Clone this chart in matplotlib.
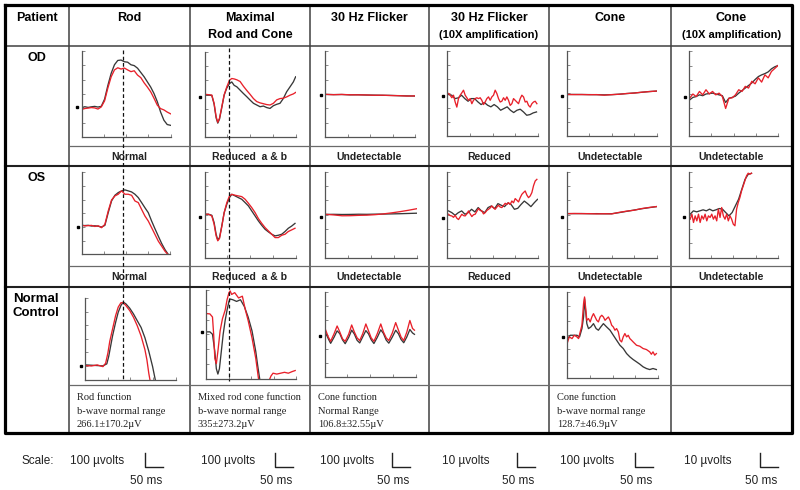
import numpy as np
import matplotlib.pyplot as plt
from matplotlib import font_manager

# ---- column / row text ----
headers = ["Patient", "Rod", "Maximal\nRod and Cone", "30 Hz Flicker",
           "30 Hz Flicker\n(10X amplification)", "Cone", "Cone\n(10X amplification)"]
patients = ["OD", "OS", "Normal\nControl"]
od_calls = ["Normal", "Reduced  a & b", "Undetectable", "Reduced", "Undetectable", "Undetectable"]
os_calls = ["Normal", "Reduced  a & b", "Undetectable", "Reduced", "Undetectable", "Undetectable"]
normal_notes = [
    ["Rod function", "b-wave normal range", "266.1±170.2µV"],
    ["Mixed rod cone function", "b-wave normal range", "335±273.2µV"],
    ["Cone function", "Normal Range", "106.8±32.55µV"],
    None,
    ["Cone function", "b-wave normal range", "128.7±46.9µV"],
    None,
]
scale_volts = ["100 µvolts", "100 µvolts", "100 µvolts", "10 µvolts", "100 µvolts", "10 µvolts"]
scale_time = "50 ms"

# ---- traces: time in % of sweep, amplitude in % of panel height ----
# OD
od_rod_k = [34.0, 35.2, 34.4, 35.1, 35.6, 34.8, 35.7, 44.0, 60.0, 74.0, 84.0, 89.0, 89.5, 87.5,
            87.0, 84.0, 83.0, 80.0, 75.0, 70.0, 64.0, 58.0, 50.5, 41.0, 29.0, 19.5, 14.5, 13.6]
od_rod_r = [32.0, 33.1, 33.6, 34.2, 33.8, 32.5, 35.0, 42.0, 57.0, 70.0, 78.0, 80.5, 79.0, 80.2,
            78.0, 76.0, 77.0, 72.0, 69.0, 63.0, 58.0, 52.5, 45.0, 37.0, 33.0, 31.5, 29.0, 27.0]
od_max_t = [1.8, 8.0, 10.5, 12.7, 14.5, 16.4, 18.9, 21.5, 24.4, 27.3, 29.8, 32.4, 35.3, 38.9, 42.5,
            46.2, 49.8, 53.5, 57.1, 60.7, 64.4, 68.0, 71.6, 75.3, 78.9, 82.5, 86.2, 89.8, 93.5, 97.1, 99.6]
od_max_k = [49.8, 49.2, 39.0, 23.0, 16.8, 21.5, 35.0, 49.6, 58.0, 63.0, 65.0, 61.0, 59.3, 55.4, 51.5,
            47.7, 43.8, 40.0, 38.0, 36.0, 36.8, 35.0, 34.0, 37.2, 38.8, 40.0, 45.7, 53.5, 59.3, 65.0, 71.0]
od_max_r = [50.4, 49.6, 40.0, 24.4, 17.8, 22.5, 36.0, 50.0, 59.3, 67.0, 69.0, 68.5, 67.5, 65.5, 60.0,
            55.0, 50.5, 45.5, 42.0, 40.5, 39.5, 38.5, 38.0, 40.0, 44.0, 45.5, 46.0, 47.5, 49.5, 51.0, 52.7]
od_fl_k = [49.5, 49.3, 49.4, 49.0, 49.1, 48.8, 48.7, 48.5, 48.4, 48.0, 47.8, 47.6]
od_fl_r = [49.6, 49.2, 49.5, 49.1, 49.0, 48.9, 48.5, 48.6, 48.2, 48.1, 47.6, 47.8]
od_fl10_k = [48.8, 48.0, 44.0, 44.9, 48.0, 44.0, 40.9, 44.0, 44.0, 40.2, 37.0, 39.4, 36.2, 34.3,
             37.0, 34.3, 30.3, 32.3, 34.3, 30.3, 27.6, 30.3, 31.5, 28.3, 24.4, 25.2, 27.2, 28.3]
od_fl10_r = [50.0, 48.0, 45.0, 48.0, 40.0, 34.0, 44.0, 48.0, 50.8, 53.9, 48.0, 45.0, 42.0, 44.0,
             38.0, 42.0, 44.0, 45.0, 44.0, 45.0, 42.0, 37.0, 40.0, 44.0, 46.0, 42.0, 46.0, 48.0,
             53.9, 50.0, 44.0, 40.0, 40.9, 45.0, 42.0, 46.0, 42.0, 36.0, 38.0, 44.0, 42.0, 40.0,
             38.0, 44.0, 48.0, 46.0, 40.0, 40.9, 36.0, 34.0, 38.0, 40.0, 40.9, 38.0]
od_cone_k = [48.8, 48.9, 48.8, 48.7, 48.6, 48.4, 48.6, 49.2, 49.9, 50.6, 51.4, 52.3, 52.8]
od_cone_r = [48.9, 48.7, 48.8, 48.6, 48.7, 48.0, 48.7, 49.1, 50.0, 50.5, 51.5, 52.2, 52.9]
od_cone10_k = [43.0, 46.0, 47.0, 49.0, 48.0, 50.0, 50.5, 51.0, 50.0, 49.0, 48.0, 40.0, 45.0, 46.0,
               47.5, 51.0, 54.0, 57.0, 60.0, 63.0, 67.0, 70.5, 72.5, 74.0, 76.0, 79.6, 82.0, 83.5]
od_cone10_r = [45.0, 50.0, 47.0, 53.0, 49.0, 55.0, 50.0, 53.0, 49.0, 51.0, 47.0, 33.0, 45.0, 45.5,
               49.0, 55.0, 53.0, 59.0, 57.0, 65.0, 62.0, 69.0, 64.0, 72.5, 69.0, 76.5, 80.0, 83.5]
# OS
os_rod_k = [35.5, 35.3, 35.6, 34.7, 35.0, 34.5, 33.5, 35.5, 51.0, 65.3, 72.2, 75.5, 77.6, 78.8,
            77.6, 76.3, 73.5, 69.4, 63.3, 57.0, 51.0, 40.8, 31.4, 22.4, 13.5, 6.0, 0.0]
os_rod_r = [35.8, 34.9, 35.2, 35.5, 34.2, 35.0, 32.7, 36.7, 53.0, 66.5, 71.4, 73.5, 77.6, 73.5,
            73.5, 72.2, 65.3, 63.3, 55.0, 46.9, 40.8, 32.7, 24.5, 16.3, 10.2, 4.0, -0.5]
os_max_t = [0.7, 4.4, 8.0, 10.5, 12.7, 14.5, 16.4, 18.9, 21.5, 24.4, 27.3, 29.8, 33.5, 37.1, 40.7,
            44.4, 48.0, 51.6, 55.3, 58.9, 62.5, 66.2, 69.8, 73.5, 77.1, 80.7, 84.4, 88.0, 91.6, 95.3, 98.9]
os_max_k = [50.6, 50.6, 49.4, 40.9, 27.2, 20.6, 23.3, 37.0, 52.5, 62.3, 70.0, 73.9, 72.0, 70.0, 68.1,
            64.2, 60.3, 54.5, 48.6, 42.8, 37.7, 33.0, 30.0, 27.2, 25.3, 26.0, 27.2, 30.4, 34.2, 36.8, 39.9]
os_max_r = [50.6, 50.6, 48.6, 38.9, 25.3, 19.5, 22.2, 36.2, 52.5, 64.2, 72.0, 73.9, 72.8, 72.0, 71.2,
            68.1, 63.4, 58.4, 52.5, 45.5, 40.0, 35.0, 31.1, 27.2, 23.3, 23.3, 26.0, 27.2, 30.4, 32.3, 34.2]
os_fl_k = [50.4, 50.5, 50.3, 50.4, 50.6, 50.5, 50.7, 50.8, 51.0, 51.2, 51.5, 51.8]
os_fl_r = [50.5, 49.8, 48.8, 48.9, 49.3, 49.5, 50.1, 51.0, 52.2, 53.6, 55.2, 57.0]
os_fl10_k = [54.5, 52.5, 49.4, 52.5, 54.5, 50.6, 52.5, 56.4, 53.3, 58.4, 54.5, 52.5, 58.4, 60.3,
             57.2, 63.0, 61.1, 59.5, 63.8, 61.9, 56.4, 57.5, 62.0, 66.0, 63.0, 59.5, 64.0, 68.0]
os_fl10_r = [50.6, 49.0, 48.6, 47.0, 49.4, 46.0, 44.4, 47.5, 50.6, 49.0, 48.6, 51.0, 54.5, 51.0,
             47.9, 50.0, 50.6, 54.0, 57.2, 55.0, 54.5, 51.0, 52.5, 55.0, 56.4, 58.0, 60.3, 58.0,
             56.4, 59.0, 61.1, 59.0, 58.4, 61.0, 63.4, 62.0, 64.2, 62.0, 66.1, 64.0, 68.9, 67.0,
             65.0, 70.0, 73.9, 76.0, 77.8, 73.0, 70.0, 72.0, 75.9, 84.0, 89.5, 91.4]
os_cone_k = [51.4, 51.3, 51.4, 51.2, 51.3, 51.1, 51.2, 52.5, 54.0, 55.5, 57.0, 58.3, 59.5]
os_cone_r = [51.2, 51.5, 51.3, 51.3, 51.0, 51.2, 51.0, 52.8, 54.2, 55.3, 57.2, 58.5, 59.6]
os_cone10_k = [51.0, 54.9, 53.7, 54.9, 56.1, 54.9, 56.9, 54.9, 56.1, 57.6, 56.9, 52.9, 49.0, 52.9,
               60.8, 68.6, 80.4, 92.0, 98.0, 99.0]
os_cone10_r = [45.1, 51.0, 41.2, 49.0, 43.1, 51.0, 41.2, 49.0, 45.1, 51.0, 43.1, 49.0, 47.1, 51.0,
               45.1, 49.0, 43.1, 56.9, 47.1, 58.8, 49.0, 45.1, 51.0, 43.1, 49.0, 45.1, 39.2, 37.3,
               56.9, 64.7, 70.6, 78.4, 84.3, 90.2, 96.1, 99.2, 98.0, 99.2]
# Normal control
nc_rod_tk = [0.8, 7.2, 13.5, 19.8, 24.1, 26.2, 28.3, 30.4, 33.8, 36.7, 39.7, 42.2, 45.1, 49.4,
             53.6, 57.8, 62.0, 66.2, 70.5, 74.7, 77.6]
nc_rod_k = [17.9, 17.5, 17.1, 16.7, 19.2, 28.3, 40.8, 53.3, 70.0, 82.5, 90.8, 95.0, 92.9, 87.5,
            80.4, 72.0, 63.8, 51.3, 34.6, 15.8, 0.0]
nc_rod_tr = [0.8, 7.2, 13.5, 19.8, 22.8, 25.3, 27.4, 30.4, 33.8, 36.7, 39.7, 42.2, 45.1, 49.4,
             53.6, 57.8, 62.0, 66.2, 68.4, 70.5, 71.7]
nc_rod_r = [17.0, 16.6, 17.9, 15.8, 20.0, 32.5, 47.0, 61.7, 78.3, 88.8, 94.2, 94.2, 90.8, 84.6,
            76.3, 65.8, 53.3, 36.7, 24.2, 7.5, 0.0]
nc_max_tk = [0.0, 4.3, 7.2, 9.8, 11.5, 13.2, 14.9, 17.0, 19.1, 21.3, 23.4, 25.5, 26.8, 29.8, 34.0,
             38.3, 42.6, 46.8, 51.1, 55.3, 57.4, 59.6]
nc_max_k = [52.7, 52.7, 50.0, 30.5, 11.0, 5.0, 11.0, 30.5, 50.0, 65.6, 77.3, 87.1, 89.8, 89.0, 87.1,
            89.0, 81.3, 69.5, 53.9, 30.5, 14.8, 0.0]
nc_max_tr = [0.0, 4.3, 7.2, 8.5, 9.8, 11.5, 13.2, 15.7, 18.3, 21.3, 23.4, 25.5, 26.8, 28.5, 31.9,
             36.2, 40.4, 43.8, 46.8, 51.1, 55.3, 58.3, 61.7, 66.0, 70.2, 72.3, 74.5, 78.7, 83.0,
             87.2, 91.5, 95.7, 99.1]
nc_max_r = [73.4, 73.0, 69.5, 50.0, 22.7, 16.8, 30.5, 53.9, 67.6, 77.3, 89.0, 96.9, 99.0, 95.0, 97.0,
            91.0, 93.0, 77.3, 65.6, 46.0, 22.7, 0.0, -8.0, -6.0, -2.0, 3.0, 6.0, 5.0, 6.0,
            7.0, 6.0, 7.8, 9.0]
nc_fl_t = [1.3, 4.2, 6.7, 10.5, 13.8, 16.7, 19.7, 22.6, 26.4, 29.7, 32.6, 35.6, 38.5, 41.8, 45.2,
           48.1, 51.0, 54.0, 57.7, 61.5, 64.4, 67.4, 70.3, 74.1, 77.8, 80.8, 83.7, 86.6, 90.0,
           93.3, 96.2, 98.3]
nc_fl_k = [51.8, 44.9, 39.6, 46.9, 54.3, 51.0, 43.7, 39.2, 46.5, 55.1, 50.6, 43.2, 40.1, 47.3, 54.6,
           50.8, 43.9, 39.4, 46.7, 55.5, 51.2, 43.5, 39.8, 47.0, 55.0, 50.9, 44.1, 40.3, 47.2,
           55.9, 51.8, 50.2]
nc_fl_r = [55.1, 46.9, 42.0, 51.0, 60.0, 53.0, 44.9, 42.0, 50.2, 61.2, 53.0, 46.1, 42.9, 51.0, 62.4,
           54.3, 46.1, 42.0, 51.0, 62.4, 53.0, 46.1, 42.9, 51.8, 64.0, 55.1, 46.9, 42.9, 53.0,
           66.5, 57.1, 55.1]
nc_cone_tk = [0.7, 3.6, 7.3, 10.9, 13.8, 16.4, 18.2, 19.3, 20.4, 21.8, 23.6, 26.2, 29.1, 32.0, 34.5,
              37.1, 40.0, 43.6, 47.3, 50.9, 54.5, 58.2, 61.8, 65.5, 69.1, 72.7, 76.4, 80.0, 83.6,
              87.3, 90.9, 94.5, 98.2]
nc_cone_k = [45.5, 49.4, 49.4, 49.4, 47.5, 57.2, 70.8, 92.2, 78.6, 63.0, 57.2, 59.1, 63.0, 57.2, 55.3,
             59.1, 63.0, 59.1, 55.3, 49.4, 43.6, 37.7, 33.9, 28.0, 24.1, 21.0, 18.3, 15.6, 12.5,
             10.5, 9.3, 10.5, 9.3]
nc_cone_tr = [0.7, 2.5, 5.5, 8.0, 10.9, 12.7, 14.5, 16.4, 18.2, 19.3, 20.4, 21.8, 23.6, 25.5, 27.3,
              29.1, 30.9, 32.7, 34.5, 36.4, 38.2, 40.0, 41.8, 43.6, 45.5, 47.3, 49.1, 50.9, 52.7,
              54.5, 56.4, 58.2, 60.0, 61.8, 63.6, 65.5, 67.3, 69.1, 70.9, 72.7, 76.4, 80.0, 83.6,
              87.3, 90.9, 92.7, 94.5, 96.4, 98.2]
nc_cone_r = [41.6, 47.5, 45.5, 49.4, 47.5, 45.5, 53.3, 61.1, 86.4, 94.2, 82.5, 66.9, 68.9, 65.0, 70.8,
             74.7, 70.8, 66.9, 65.0, 70.8, 72.8, 70.8, 66.9, 68.9, 70.8, 66.9, 61.1, 59.1, 55.3,
             57.2, 53.3, 43.6, 41.6, 47.5, 51.4, 47.5, 49.4, 45.5, 43.6, 41.6, 37.7, 36.6, 33.9,
             32.7, 30.0, 27.2, 30.0, 26.1, 28.0]

# baseline marker level per panel
od_base = [34.5, 47.6, 48.5, 46.9, 47.2, 47.0]
os_base = [33.5, 47.9, 47.9, 46.7, 47.9, 48.2]
nc_base = [16.5, 52.7, 48.5, None, 47.4, None]

BLACK = '#383838'
RED = '#e8202a'
SANS = 'Liberation Sans'
SERIF = 'Liberation Serif'
have_narrow = any(f.name == 'Liberation Sans Narrow' for f in font_manager.fontManager.ttflist)

W, H = 800, 490
fig = plt.figure(figsize=(8, 4.9), dpi=100)
bg = fig.add_axes([0, 0, 1, 1])
bg.set_xlim(0, W)
bg.set_ylim(H, 0)
bg.axis('off')

col_x = [5, 69, 190, 310, 429, 549, 671, 792]
col_c = [(a + b) / 2 for a, b in zip(col_x[:-1], col_x[1:])]

# table grid
for x in col_x[1:-1]:
    bg.plot([x, x], [5, 433], color='#404040', lw=1.1)
bg.plot([5, 792], [46, 46], color='#404040', lw=1.1)
for y in (146, 266, 385):
    bg.plot([69, 792], [y, y], color='#6a6a6a', lw=0.9)
for y in (166, 287):
    bg.plot([5, 792], [y, y], color='#202020', lw=1.5)
bg.plot([5, 792, 792, 5, 5], [5, 5, 433, 433, 5], color='black', lw=2.3)

# header
for i, h in enumerate(headers):
    lines = h.split('\n')
    bg.text(col_c[i], 18, lines[0], ha='center', va='center', fontsize=9,
            fontweight='bold', family=SANS)
    if len(lines) > 1:
        fs = 9 if i == 2 else 8
        bg.text(col_c[i], 35, lines[1], ha='center', va='center', fontsize=fs,
                fontweight='bold', family=SANS)

bg.text(37, 58, patients[0], ha='center', va='center', fontsize=9, fontweight='bold', family=SANS)
bg.text(37, 178, patients[1], ha='center', va='center', fontsize=9, fontweight='bold', family=SANS)
bg.text(36, 306, patients[2], ha='center', va='center', fontsize=9.5, fontweight='bold',
        family=SANS, linespacing=1.15)

call_font = dict(family='Liberation Sans Narrow', fontsize=8.5) if have_narrow else dict(family=SANS, fontsize=7.5)
for i in range(6):
    bg.text(col_c[i + 1], 156.5, od_calls[i], ha='center', va='center', fontweight='bold',
            color='#222222', **call_font)
    bg.text(col_c[i + 1], 277, os_calls[i], ha='center', va='center', fontweight='bold',
            color='#222222', **call_font)
    if normal_notes[i]:
        for j, (line, y) in enumerate(zip(normal_notes[i], (397, 411.5, 424.5))):
            bg.text(col_x[i + 1] + 8, y, line, ha='left', va='center', fontsize=7.5,
                    family=SERIF, color='#222222')

# scale row
bg.text(22, 461, "Scale:", ha='left', va='center', fontsize=8.5, family=SANS, color='#222222')
volt_cx = [97, 228, 347, 466, 587, 708]
bar_x = [145, 275, 392, 517, 635, 760]
for i in range(6):
    bg.text(volt_cx[i], 461, scale_volts[i], ha='center', va='center', fontsize=8.5,
            family=SANS, color='#222222')
    bx = bar_x[i]
    bg.plot([bx, bx, bx + 18], [453, 467, 467], color='#222222', lw=1.0)
    bg.text(bx + 1, 481, scale_time, ha='center', va='center', fontsize=8.5,
            family=SANS, color='#222222')


def panel(box, base, traces):
    x0, x1, y0, y1 = box
    ax = fig.add_axes([x0 / W, 1 - y1 / H, (x1 - x0) / W, (y1 - y0) / H])
    ax.patch.set_alpha(0)
    ax.set_xlim(0, 100)
    ax.set_ylim(0, 100)
    for t, v, c in traces:
        ax.plot(t, v, color=c, lw=0.95)
    ax.plot([-4.5], [base], 's', ms=1.6, color='black', clip_on=False)
    for s in ('top', 'right'):
        ax.spines[s].set_visible(False)
    for s in ('left', 'bottom'):
        ax.spines[s].set_color('#555555')
        ax.spines[s].set_linewidth(0.9)
    ax.set_xticks([0, 25, 50, 75, 100])
    ax.set_yticks(np.arange(7) * 100 / 6)
    ax.tick_params(direction='in', length=2, width=0.6, colors='#777777',
                   labelleft=False, labelbottom=False)
    return ax


def even(vals, t0, t1):
    return np.linspace(t0, t1, len(vals))


od_boxes = [(81.5, 170.5, 51, 137), (204.5, 296, 52, 137.5), (325, 415, 51, 137),
            (447.5, 537.5, 51, 136), (566.5, 656.5, 51, 136), (689, 778, 51.5, 136.5)]
os_boxes = [(81.5, 170, 172.5, 254.5), (204.5, 296, 172, 257.5), (325, 416.5, 172, 257.5),
            (447.5, 537.5, 172, 257.5), (566.5, 656.5, 172, 257.5), (688.5, 778, 172.5, 257.5)]
nc_boxes = [(85, 175.5, 298, 379.5), (206, 296, 290, 378.5), (324.5, 416, 292, 377),
            None, (567, 658, 292, 377.5), None]

od_traces = [
    [(even(od_rod_k, 0, 100), od_rod_k, BLACK), (even(od_rod_r, 0, 100), od_rod_r, RED)],
    [(od_max_t, od_max_k, BLACK), (od_max_t, od_max_r, RED)],
    [(even(od_fl_k, 0.5, 100), od_fl_k, BLACK), (even(od_fl_r, 0.5, 100), od_fl_r, RED)],
    [(even(od_fl10_k, 1.1, 98.9), od_fl10_k, BLACK), (even(od_fl10_r, 1.1, 99.3), od_fl10_r, RED)],
    [(even(od_cone_k, 0.5, 100), od_cone_k, BLACK), (even(od_cone_r, 0.5, 100), od_cone_r, RED)],
    [(even(od_cone10_k, 0.7, 100), od_cone10_k, BLACK), (even(od_cone10_r, 0.7, 100), od_cone10_r, RED)],
]
os_traces = [
    [(even(os_rod_k, 0, 98.1), os_rod_k, BLACK), (even(os_rod_r, 0, 98.1), os_rod_r, RED)],
    [(os_max_t, os_max_k, BLACK), (os_max_t, os_max_r, RED)],
    [(even(os_fl_k, 0.5, 100), os_fl_k, BLACK), (even(os_fl_r, 0.5, 100), os_fl_r, RED)],
    [(even(os_fl10_k, 1.1, 100), os_fl10_k, BLACK), (even(os_fl10_r, 1.1, 99.3), os_fl10_r, RED)],
    [(even(os_cone_k, 0.5, 100), os_cone_k, BLACK), (even(os_cone_r, 0.5, 100), os_cone_r, RED)],
    [(even(os_cone10_k, 1.9, 70.4), os_cone10_k, BLACK), (even(os_cone10_r, 1.9, 70.4), os_cone10_r, RED)],
]
nc_traces = [
    [(nc_rod_tk, nc_rod_k, BLACK), (nc_rod_tr, nc_rod_r, RED)],
    [(nc_max_tk, nc_max_k, BLACK), (nc_max_tr, nc_max_r, RED)],
    [(nc_fl_t, nc_fl_k, BLACK), (nc_fl_t, nc_fl_r, RED)],
    None,
    [(nc_cone_tk, nc_cone_k, BLACK), (nc_cone_tr, nc_cone_r, RED)],
    None,
]

for boxes, bases, traces in ((od_boxes, od_base, od_traces), (os_boxes, os_base, os_traces),
                             (nc_boxes, nc_base, nc_traces)):
    for box, base, tr in zip(boxes, bases, traces):
        if box is not None:
            panel(box, base, tr)

# dashed time markers across rows
top = fig.add_axes([0, 0, 1, 1], zorder=10)
top.set_xlim(0, W)
top.set_ylim(H, 0)
top.axis('off')
top.patch.set_alpha(0)
top.plot([122.5, 122.5], [50, 381], color='#111111', lw=0.9, ls=(0, (3, 2)))
top.plot([229, 229], [48, 381], color='#111111', lw=0.9, ls=(0, (3, 2)))

fig.savefig('out.png', dpi=100)
